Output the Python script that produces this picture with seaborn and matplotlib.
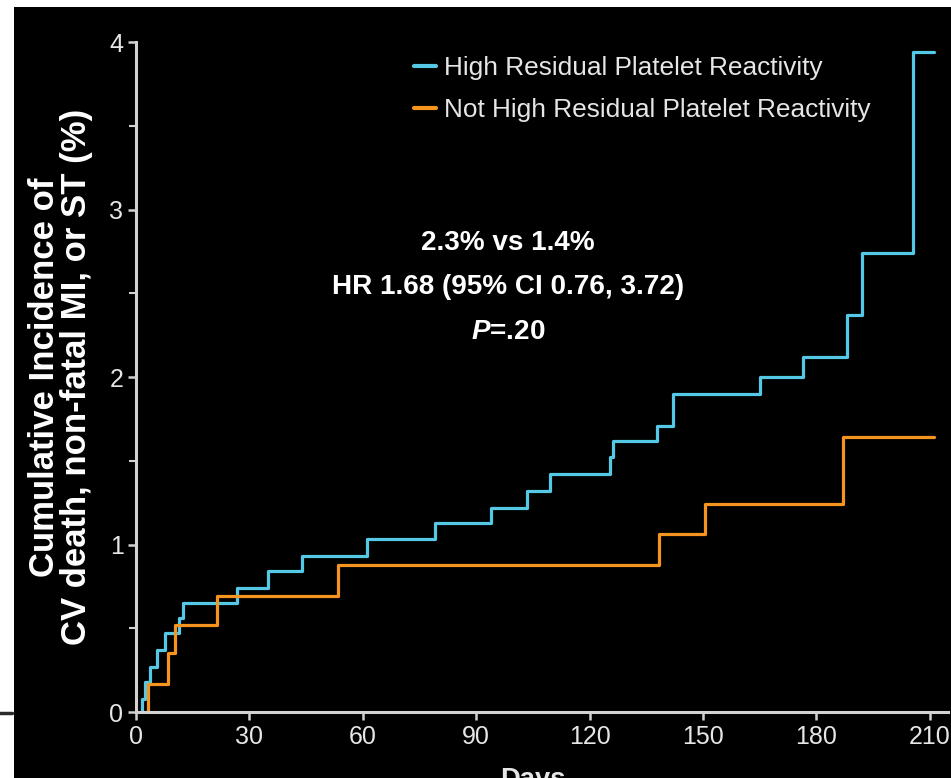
import matplotlib
matplotlib.use("Agg")
import matplotlib.pyplot as plt
from matplotlib import font_manager as fm
from matplotlib.patches import Rectangle
from matplotlib.lines import Line2D
from matplotlib.ticker import MultipleLocator
import seaborn as sns
import pandas as pd

# ---------------- data ----------------
series_names = ["High Residual Platelet Reactivity", "Not High Residual Platelet Reactivity"]
high_days = [1.0, 1.5, 2.4, 3.7, 5.5, 7.7, 11.5, 12.5, 26.7, 35.0, 44.0, 61.0, 79.0, 94.0,
             103.4, 109.5, 125.4, 126.2, 137.8, 142.0, 165.0, 176.5, 188.0, 192.0, 205.5, 211.0]
high_vals = [0.00, 0.08, 0.18, 0.27, 0.37, 0.47, 0.56, 0.65, 0.74, 0.84, 0.93, 1.03, 1.13, 1.22,
             1.32, 1.42, 1.52, 1.62, 1.71, 1.90, 2.00, 2.12, 2.37, 2.74, 3.94, 3.94]
not_days = [2.5, 3.2, 8.5, 10.3, 21.5, 53.4, 138.4, 150.5, 187.0, 211.0]
not_vals = [0.00, 0.17, 0.35, 0.52, 0.69, 0.88, 1.06, 1.24, 1.64, 1.64]
x_ticks = [0, 30, 60, 90, 120, 150, 180, 210]
y_ticks = [0, 1, 2, 3, 4]
annot_lines = ["2.3% vs 1.4%", "HR 1.68 (95% CI 0.76, 3.72)", r"$\mathit{P}$=.20"]
y_label = "Cumulative Incidence of\nCV death, non-fatal MI, or ST (%)"
x_label = "Days"

df = pd.concat([
    pd.DataFrame({"day": high_days, "inc": high_vals, "group": series_names[0]}),
    pd.DataFrame({"day": not_days, "inc": not_vals, "group": series_names[1]}),
], ignore_index=True)

# ---------------- style ----------------
sns.set_style("ticks")
names = {f.name for f in fm.fontManager.ttflist}
NARROW = "Liberation Sans Narrow" if "Liberation Sans Narrow" in names else "Liberation Sans"
k = 1.0 if NARROW == "Liberation Sans Narrow" else 0.82
plt.rcParams["font.family"] = [NARROW, "DejaVu Sans"]
plt.rcParams["mathtext.fontset"] = "custom"
plt.rcParams["mathtext.it"] = f"{NARROW}:italic:bold"
plt.rcParams["mathtext.rm"] = f"{NARROW}:bold"

CYAN = "#55c8e6"
ORANGE = "#f5951f"
GREY = "#d2d2d2"
TXT = "#e6e6e6"

fig = plt.figure(figsize=(9.51, 7.78), dpi=100, facecolor="white")
fig.add_artist(Rectangle((14 / 951, 0), 1 - 14 / 951, 1 - 7 / 778, transform=fig.transFigure,
                         facecolor="black", edgecolor="none", zorder=-10))
fig.add_artist(Line2D([0, 12 / 951], [1 - 713 / 778] * 2, color="#2a2a2a", lw=2.5))

ax = fig.add_axes([136 / 951, 1 - 712 / 778, (948 - 136) / 951, (712 - 42) / 778])
ax.set_facecolor("black")

sns.lineplot(data=df, x="day", y="inc", hue="group", palette=[CYAN, ORANGE],
             estimator=None, sort=False, drawstyle="steps-post", linewidth=2.3, ax=ax)

ax.set_xlim(0, 214.8)
ax.set_ylim(0, 4)
ax.set_xticks(x_ticks)
ax.set_yticks(y_ticks)
ax.yaxis.set_minor_locator(MultipleLocator(0.5))
for s in ["top", "right"]:
    ax.spines[s].set_visible(False)
for s in ["left", "bottom"]:
    ax.spines[s].set_color(GREY)
    ax.spines[s].set_linewidth(2.2)
ax.tick_params(axis="both", which="major", length=6, width=1.8, color=GREY,
               labelcolor=TXT, labelsize=22 * k, direction="out", pad=3)
ax.tick_params(axis="y", which="minor", length=5, width=1.5, color=GREY)
ax.set_xlabel("")
ax.set_ylabel(y_label, fontsize=25, fontweight="bold", color="white",
              family=["Liberation Sans", "DejaVu Sans"], linespacing=0.95, labelpad=12)

# legend
h, l = ax.get_legend_handles_labels()
leg = ax.legend(h, l, loc="upper left", bbox_to_anchor=(414 / 951, 1 - 56 / 778),
                bbox_transform=fig.transFigure, frameon=False, fontsize=23 * k,
                handlelength=0.85, handletextpad=0.3, labelspacing=0.7,
                borderpad=0, borderaxespad=0)
for t in leg.get_texts():
    t.set_color(TXT)
for ln in leg.get_lines():
    ln.set_linewidth(3)

# annotation
ys = [2.80, 2.54, 2.27]
for txt, yv in zip(annot_lines, ys):
    ax.text(98.4, yv, txt, ha="center", va="center", color="white",
            fontsize=24.5 * k, fontweight="bold")

fig.text(533 / 951, (778 - 767) / 778, x_label, ha="center", va="top",
         color=TXT, fontsize=24 * k, fontweight="bold")

fig.savefig("out.png", dpi=100, facecolor=fig.get_facecolor())
